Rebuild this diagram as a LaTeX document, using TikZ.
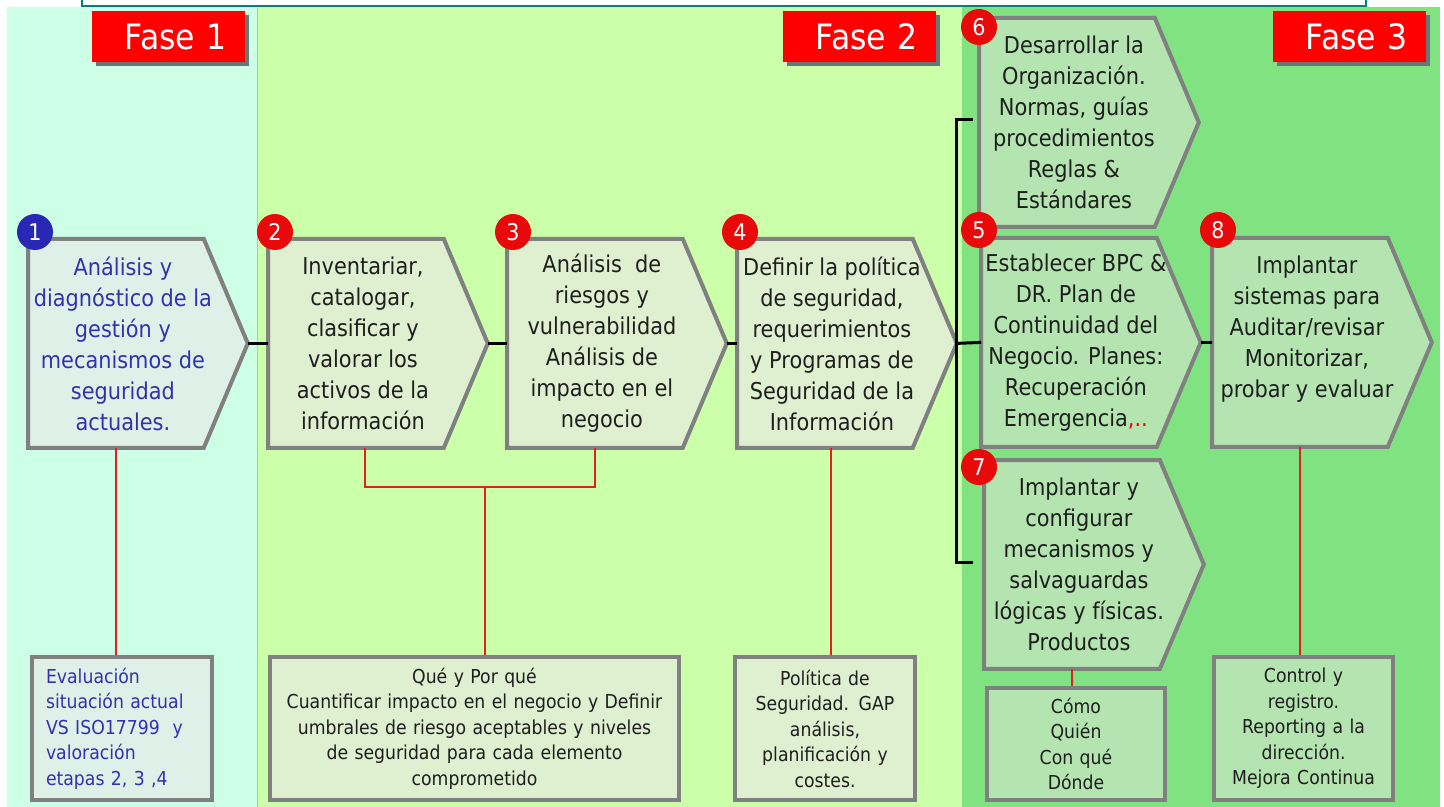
\documentclass[tikz,border=0pt]{standalone}
\usepackage{fontspec}
\setmainfont{DejaVu Sans}[FakeStretch=0.9]
\usetikzlibrary{calc,shadows}
\pgfdeclarelayer{bg}
\pgfsetlayers{bg,main}
\definecolor{faseA}{RGB}{204,255,229}
\definecolor{faseB}{RGB}{204,255,170}
\definecolor{faseC}{RGB}{128,226,128}
\definecolor{boxA}{RGB}{222,240,232}
\definecolor{boxB}{RGB}{222,240,208}
\definecolor{boxC}{RGB}{180,228,176}
\definecolor{boxgray}{RGB}{128,128,128}
\definecolor{badgered}{RGB}{232,10,10}
\definecolor{badgeblue}{RGB}{40,40,180}
\definecolor{fasered}{RGB}{255,0,0}
\definecolor{shadowgray}{RGB}{100,120,120}
\definecolor{linered}{RGB}{230,30,30}
\definecolor{txtdark}{RGB}{30,30,30}
\definecolor{txtblue}{RGB}{50,50,175}
\definecolor{topteal}{RGB}{0,128,128}
\newcommand\pentshape[2]{%
  \coordinate (#1tip) at ($(#1.east)+(44,0)$);
  \begin{pgfonlayer}{bg}
    \filldraw[pentline, fill=#2] (#1.north west) -- (#1.north east) -- (#1tip) -- (#1.south east) -- (#1.south west) -- cycle;
  \end{pgfonlayer}}
\begin{document}
\begin{tikzpicture}[x=0.5pt,y=-0.5pt,
  pent/.style={anchor=north west, minimum width=87.5pt, minimum height=104pt, inner sep=0pt},
  ptext/.style={align=center, inner sep=0pt, xshift=3.5pt, font=\fontsize{11.6pt}{15.5pt}\selectfont, text=txtdark},
  pentline/.style={draw=boxgray, line width=2pt, line join=miter},
  badge/.style={circle, fill=badgered, text=white, minimum size=18pt, inner sep=0pt, font=\fontsize{11.5pt}{11.5pt}\selectfont},
  redline/.style={draw=linered, line width=1pt},
  blackline/.style={draw=black, line width=1.5pt},
  ebox/.style={anchor=north west, draw=boxgray, line width=2pt, inner ysep=0pt, inner xsep=2pt, minimum height=71.5pt, align=center, font=\fontsize{9.6pt}{12.75pt}\selectfont, text=txtdark},
  fase/.style={anchor=north west, fill=fasered, text=white, minimum height=25.5pt, text width=58pt, inner xsep=9.25pt, inner ysep=0pt, align=right, font=\fontsize{17.5pt}{17.5pt}\selectfont, drop shadow={shadow xshift=2pt, shadow yshift=-2pt, fill=shadowgray, opacity=1}}
]
\useasboundingbox (0,0) rectangle (1444,807);
\begin{pgfonlayer}{bg}
  \fill[white] (0,0) rectangle (1444,807);
  \fill[faseA] (7,7) rectangle (257,807);
  \fill[faseB] (257,7) rectangle (962,807);
  \fill[faseC] (962,7) rectangle (1440,807);
  \draw[black!25, line width=0.5pt] (257,7) -- (257,807);
  \draw[topteal, line width=1pt] (82,0) -- (82,6) -- (1366,6) -- (1366,0);
\end{pgfonlayer}

% Fase labels
\node[fase] (f1) at (92,11) {Fase 1};
\node[fase] (f2) at (783,11) {Fase 2};
\node[fase] (f3) at (1273,11) {Fase 3};

% main boxes
\node[pent, label={[ptext, text=txtblue]center:{Análisis y\\diagnóstico de la\\gestión y\\mecanismos de\\seguridad\\actuales.}}] (b1) at (28,239) {};
\pentshape{b1}{boxA}
\node[pent, label={[ptext]center:{Inventariar,\\catalogar,\\clasificar y\\valorar los\\activos de la\\información}}] (b2) at (268,239) {};
\pentshape{b2}{boxB}
\node[pent, label={[ptext]center:{Análisis\ \ de\\riesgos y\\vulnerabilidad\\Análisis de\\impacto en el\\negocio}}] (b3) at (507,239) {};
\pentshape{b3}{boxB}
\node[pent, label={[ptext]center:{Definir la política\\de seguridad,\\requerimientos\\y Programas de\\Seguridad de la\\Información}}] (b4) at (737,239) {};
\pentshape{b4}{boxB}
\node[pent, label={[ptext]center:{Desarrollar la\\Organización.\\Normas, guías\\procedimientos\\Reglas \&\\Estándares}}] (b6) at (979,18) {};
\pentshape{b6}{boxC}
\node[pent, label={[ptext]center:{Establecer BPC \&\\DR. Plan de\\Continuidad del\\Negocio. Planes:\\Recuperación\\Emergencia\textcolor{red}{,..}}}] (b5) at (981,238) {};
\pentshape{b5}{boxC}
\node[pent, label={[ptext]center:{Implantar\\sistemas para\\Auditar/revisar\\Monitorizar,\\probar y evaluar\\~}}] (b8) at (1212,238) {};
\pentshape{b8}{boxC}
\node[pent, label={[ptext]center:{Implantar y\\configurar\\mecanismos y\\salvaguardas\\lógicas y físicas.\\Productos}}] (b7) at (984,460) {};
\pentshape{b7}{boxC}

% badges
\node[badge, fill=badgeblue] (n1) at (35,232) {1};
\node[badge] (n2) at (275,232) {2};
\node[badge] (n3) at (513,232) {3};
\node[badge] (n4) at (740,232) {4};
\node[badge] (n6) at (979,27) {6};
\node[badge] (n5) at (979,230) {5};
\node[badge] (n8) at (1218,230) {8};
\node[badge] (n7) at (979,467) {7};

% bottom boxes
\node[ebox, fill=boxA, text=txtblue, text width=76pt, inner xsep=7pt, align=left] (e1) at (30,655) {Evaluación\\situación actual\\VS ISO17799\ \ y\\valoración\\etapas 2, 3 ,4};
\node[ebox, fill=boxB, text width=200pt, inner xsep=2.25pt] (e2) at (268,655) {Qué y Por qué\\Cuantificar impacto en el negocio y Definir\\umbrales de riesgo aceptables y niveles\\de seguridad para cada elemento\\comprometido};
\node[ebox, fill=boxB, text width=86pt] (e3) at (733,655) {Política de\\Seguridad. GAP\\análisis,\\planificación y\\costes.};
\node[ebox, fill=boxC, text width=85pt, minimum height=56pt] (e4) at (985,686) {Cómo\\Quién\\Con qué\\Dónde};
\node[ebox, fill=boxC, text width=85.5pt] (e5) at (1212,655) {Control y\\registro.\\Reporting a la\\dirección.\\Mejora Continua};

% black connectors
\draw[blackline] (b1tip) -- (b2.west);
\draw[blackline] (b2tip) -- (b3.west);
\draw[blackline] (b3tip) -- (b4.west);
\draw[blackline] ($(b6.west)+(-6,-3)$) -| (b4tip) |- ($(b7.west)+(-11,-2)$);
\draw[blackline] (b4tip) -- (b5.west);
\draw[blackline] (b5tip) -- (b8.west);

% red connectors
\draw[redline] (b1.south) -- (b1.south |- e1.north);
\coordinate (j23) at (485,487);
\draw[redline] ($(b2.south)+(9,0)$) |- (j23) -| (b3.south);
\draw[redline] (j23) -- (j23 |- e2.north);
\draw[redline] ($(b4.south)+(6,0)$) -- ($(b4.south |- e3.north)+(6,0)$);
\draw[redline] (b7.south) -- (b7.south |- e4.north);
\draw[redline] (b8.south) -- (b8.south |- e5.north);
\end{tikzpicture}
\end{document}
